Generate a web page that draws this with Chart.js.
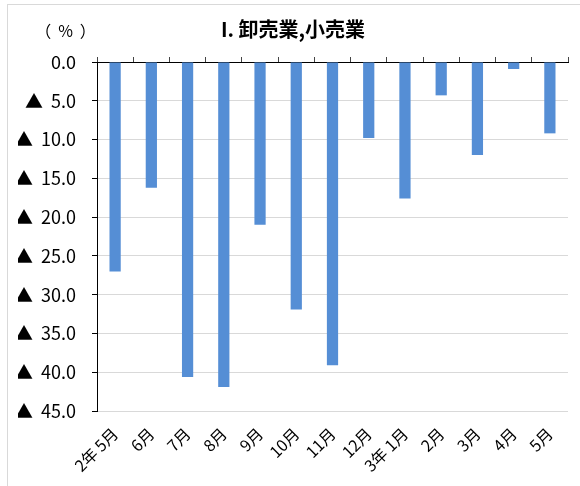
<!DOCTYPE html>
<html>
<head>
<meta charset="utf-8">
<script src="https://cdn.jsdelivr.net/npm/chart.js@4.4.1/dist/chart.umd.min.js"></script>
<style>
    html, body { margin: 0; padding: 0; background: #fff; overflow: hidden; }
    #wrap { position: relative; width: 580px; height: 486px; overflow: hidden; }
    #frame { position: absolute; left: 7px; top: 4px; width: 1000px; height: 1000px; border-top: 1px solid #d9d9d9; border-left: 1px solid #d9d9d9; box-sizing: border-box; }
    #wrap canvas { position: absolute; left: 0; top: 0; }
</style>
</head>
<body>
<div id="wrap">
    <div id="frame"></div>
    <canvas id="salesChart" width="580" height="486"></canvas>
</div>
<script>
// Data
const categories = ['2年 5月', '6月', '7月', '8月', '9月', '10月', '11月', '12月', '3年 1月', '2月', '3月', '4月', '5月'];
const changeRate = [-27.0, -16.2, -40.6, -41.9, -21.0, -31.9, -39.1, -9.8, -17.6, -4.3, -12.0, -0.9, -9.2];
const yTicks = [0, -5, -10, -15, -20, -25, -30, -35, -40, -45];

const FONT = '"Noto Sans CJK JP", "Noto Sans", sans-serif';

// draws the unit label in the top-left corner
const unitLabel = {
    id: 'unitLabel',
    afterDraw(chart) {
        const ctx = chart.ctx;
        ctx.save();
        ctx.font = '16px ' + FONT;
        ctx.fillStyle = '#000';
        ctx.textAlign = 'center';
        ctx.textBaseline = 'middle';
        if ('letterSpacing' in ctx) ctx.letterSpacing = '7px';
        ctx.fillText('（%）', 69, 31);
        ctx.restore();
    }
};

const ctx = document.getElementById('salesChart').getContext('2d');

new Chart(ctx, {
    type: 'bar',
    data: {
        labels: categories,
        datasets: [{
            label: 'I. 卸売業,小売業',
            data: changeRate,
            backgroundColor: '#558ed5',
            borderWidth: 0,
            categoryPercentage: 1,
            barPercentage: 0.31
        }]
    },
    options: {
        responsive: false,
        animation: false,
        layout: { padding: { left: 18, right: 12, top: 0, bottom: 0 } },
        plugins: {
            legend: { display: false },
            tooltip: { enabled: false },
            title: {
                display: true,
                text: 'I. 卸売業,小売業',
                color: '#000',
                font: { family: FONT, size: 20, weight: 'bold' },
                padding: { top: 17, bottom: 9 }
            }
        },
        scales: {
            x: {
                position: 'bottom',
                grid: { display: false },
                border: { display: false },
                ticks: {
                    color: '#000',
                    font: { family: FONT, size: 16 },
                    maxRotation: 45,
                    minRotation: 45,
                    autoSkip: false,
                    padding: 5
                },
                afterFit(scale) { scale.height = 75; }
            },
            x2: {
                type: 'category',
                labels: categories,
                position: 'top',
                grid: {
                    display: true,
                    drawOnChartArea: false,
                    offset: true,
                    tickLength: 5,
                    tickColor: '#444'
                },
                border: { display: true, color: '#000', width: 1 },
                ticks: { display: false },
                afterFit(scale) { scale.height = 12; }
            },
            y: {
                min: -45,
                max: 0,
                afterBuildTicks(scale) {
                    scale.ticks = yTicks.map(v => ({ value: v }));
                },
                grid: {
                    color: '#d9d9d9',
                    tickColor: '#000',
                    tickLength: 5
                },
                border: { display: true, color: '#000', width: 1 },
                ticks: {
                    color: '#000',
                    font: { family: FONT, size: 18 },
                    padding: 16,
                    callback: v => v === 0 ? '0.0' : '▲  ' + Math.abs(v).toFixed(1)
                },
                afterFit(scale) { scale.width = 79; }
            }
        }
    },
    plugins: [unitLabel]
});
</script>
</body>
</html>
